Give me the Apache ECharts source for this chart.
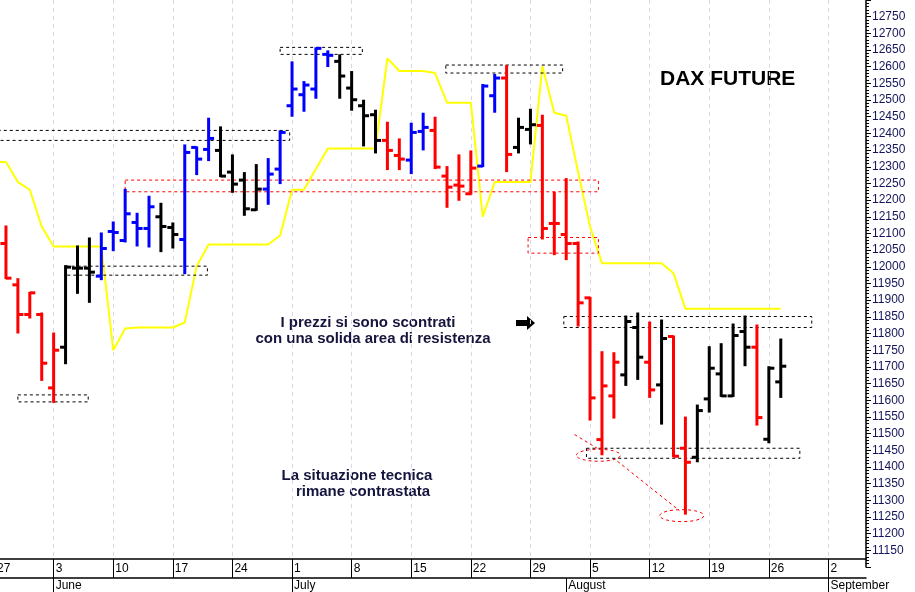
<!DOCTYPE html>
<html>
<head>
<meta charset="utf-8">
<script src="https://cdn.jsdelivr.net/npm/echarts@6/dist/echarts.min.js"></script>
<style>
  html, body { margin: 0; padding: 0; background: #fff; }
  #chart { width: 915px; height: 592px; }
</style>
</head>
<body>
<div id="chart"></div>
<script>
// giorni di borsa (27 maggio - 5 settembre), indice = posizione
var days = [27, 28, 29, 30, 31, 3, 4, 5, 6, 7, 10, 11, 12, 13, 14, 17, 18, 19, 20, 21,
  24, 25, 26, 27, 28, 1, 2, 3, 4, 5, 8, 9, 10, 11, 12, 15, 16, 17, 18, 19,
  22, 23, 24, 25, 26, 29, 30, 31, 1, 2, 5, 6, 7, 8, 9, 12, 13, 14, 15, 16,
  19, 20, 21, 22, 23, 26, 27, 28, 29, 30, 2, 3, 4, 5];
var mondays = [5, 10, 15, 20, 25, 30, 35, 40, 45, 50, 55, 60, 65, 70];
var monthStarts = [5, 25, 48, 70];
var monthNames = { 5: 'June', 25: 'July', 48: 'August', 70: 'September' };

// barre OHLC, indice 1..66
var opens = [null, 12070, 11946, 11857, 11857, 11637, 11759, 11996, 11996, 11972, 12106, 12079, 12133, 12115, 12150,
  12118, 12082, 12358, 12352, 12349, 12284, 12260, 12171, 12233, 12293, 12483, 12516, 12533, 12637, 12616,
  12536, 12483, 12456, 12379, 12334, 12320, 12406, 12409, 12272, 12245, 12219, 12302, 12513, 12566, 12358,
  12412, 12424, 12130, 12097, 12070, 11907, 11482, 11613, 11676, 11818, 11714, 11646, 11791, 11456, 11429,
  11604, 11679, 11613, 11806, 11759, 11483, 11655];
var highs = [null, 12121, 11963, 11922, 11860, 11800, 12002, 12061, 12085, 12100, 12133, 12231, 12159, 12210, 12189,
  12130, 12364, 12358, 12444, 12418, 12334, 12281, 12305, 12323, 12406, 12613, 12554, 12655, 12646, 12634,
  12584, 12498, 12468, 12432, 12382, 12429, 12459, 12447, 12299, 12334, 12346, 12545, 12575, 12602, 12444,
  12471, 12453, 12222, 12263, 12073, 11907, 11744, 11741, 11851, 11860, 11833, 11839, 11791, 11548, 11584,
  11759, 11768, 11827, 11851, 11824, 11699, 11782];
var lows = [null, 11966, 11803, 11848, 11661, 11595, 11711, 11922, 11895, 11963, 12050, 12076, 12064, 12061, 12047,
  12058, 11981, 12278, 12320, 12272, 12225, 12156, 12171, 12189, 12251, 12453, 12468, 12507, 12602, 12507,
  12471, 12364, 12343, 12293, 12293, 12281, 12352, 12296, 12180, 12201, 12219, 12302, 12465, 12287, 12343,
  12370, 12085, 12038, 12023, 11824, 11542, 11438, 11548, 11646, 11664, 11610, 11530, 11432, 11260, 11417,
  11566, 11613, 11613, 11705, 11527, 11474, 11610];
var closes = [null, 11966, 11857, 11922, 11711, 11750, 11999, 11996, 11984, 12055, 12103, 12159, 12115, 12180, 12121,
  12097, 12343, 12323, 12385, 12272, 12248, 12174, 12233, 12278, 12403, 12533, 12545, 12655, 12634, 12572,
  12501, 12453, 12379, 12349, 12323, 12403, 12418, 12299, 12239, 12242, 12296, 12542, 12566, 12337, 12418,
  12426, 12115, 12130, 12070, 11892, 11607, 11643, 11714, 11836, 11729, 11631, 11785, 11432, 11414, 11569,
  11696, 11613, 11794, 11759, 11548, 11696, 11702];
var trend = ['', 'r', 'r', 'r', 'r', 'r', 'k', 'k', 'k', 'b', 'b', 'b', 'b', 'b', 'k',
  'k', 'b', 'b', 'b', 'k', 'k', 'k', 'k', 'b', 'b', 'b', 'b', 'b', 'b', 'k',
  'k', 'k', 'k', 'r', 'r', 'b', 'b', 'r', 'r', 'r', 'r', 'b', 'b', 'r', 'k',
  'k', 'r', 'r', 'r', 'r', 'r', 'r', 'r', 'k', 'k', 'r', 'k', 'r', 'r', 'k',
  'k', 'k', 'k', 'k', 'r', 'k', 'k'];
var trendColors = { r: '#ff0000', k: '#000000', b: '#0000ff' };

// linea gialla
var stopLine = [12314, 12314, 12254, 12231, 12121, 12061, 12061, 12061, 12061, 12061, 11750, 11815, 11818, 11818, 11818,
  11818, 11833, 12002, 12067, 12067, 12067, 12067, 12067, 12067, 12094, 12231, 12231, 12293, 12355, 12355,
  12355, 12355, 12355, 12625, 12587, 12587, 12587, 12581, 12492, 12492, 12492, 12150, 12254, 12254, 12254,
  12254, 12602, 12462, 12453, 12284, 12121, 12011, 12011, 12011, 12011, 12011, 12011, 11981, 11874, 11874,
  11874, 11874, 11874, 11874, 11874, 11874, 11874];

// zone tratteggiate: [x0, x1, y0, y1, colore]
var boxes = [
  [-1.2, 24.8, 12379, 12409, '#000'],
  [24.0, 30.9, 12637, 12658, '#000'],
  [37.9, 47.7, 12581, 12605, '#000'],
  [11.0, 50.7, 12225, 12260, '#ff0000'],
  [6.0, 17.9, 11975, 12002, '#000'],
  [2.0, 7.9, 11595, 11616, '#000'],
  [44.8, 50.7, 12041, 12088, '#ff0000'],
  [47.8, 68.6, 11818, 11851, '#000'],
  [49.7, 67.6, 11426, 11456, '#000']
];
var ellipses = [[50.7, 11435], [57.7, 11254]];
var guides = [[48.7, 11497, 50.6, 11456], [52.3, 11417, 57.5, 11269]];

var bars = [];
for (var i = 0; i < opens.length; i++) {
  if (opens[i] != null) bars.push([i, opens[i], highs[i], lows[i], closes[i]]);
}
var linePts = stopLine.map(function (v, k) { return [k, v]; });

var chart = echarts.init(document.getElementById('chart'));

function px(api, x, y) {
  var p = api.coord([0, y]);
  return [p[0] + x * api.size([1, 0])[0], p[1]];
}

var labelFont = { color: '#000', fontSize: 12, fontFamily: 'Liberation Sans' };
var noteFont = 'bold 15px Liberation Sans';

var option = {
  animation: false,
  backgroundColor: '#fff',
  grid: { left: 0, right: 49, top: -4, bottom: 23 },
  xAxis: [{
    type: 'value',
    min: 0.5,
    max: 73.15,
    offset: -8,
    axisLine: { lineStyle: { color: '#000', width: 1.5 } },
    axisTick: { customValues: mondays, length: 19, lineStyle: { color: '#000' } },
    axisLabel: Object.assign({ customValues: mondays, formatter: function (v) { return String(days[Math.round(v)]); },
      align: 'left', margin: 4, padding: [0, 0, 0, 2] }, labelFont),
    splitLine: { show: true, lineStyle: { color: '#d6d6ee', type: [4, 4] } }
  }, {
    type: 'value',
    min: 0.5,
    max: 73.15,
    position: 'bottom',
    offset: 11,
    axisLine: { lineStyle: { color: '#000', width: 1.5 } },
    axisTick: { customValues: monthStarts, length: 14, lineStyle: { color: '#000' } },
    axisLabel: Object.assign({ customValues: monthStarts, formatter: function (v) { return monthNames[Math.round(v)] || ''; },
      align: 'left', margin: 2, padding: [0, 0, 0, 2] }, labelFont),
    splitLine: { show: false }
  }],
  yAxis: {
    type: 'value',
    position: 'right',
    min: 11100,
    max: 12800,
    interval: 50,
    axisLine: { show: true, lineStyle: { color: '#000', width: 1.5 } },
    axisTick: { show: true, length: 5, lineStyle: { color: '#000' } },
    minorTick: { show: true, splitNumber: 5, length: 3, lineStyle: { color: '#000' } },
    axisLabel: { showMinLabel: false, showMaxLabel: false, formatter: function (v) { return String(v); },
      color: '#14145a', fontSize: 12, margin: 6, fontFamily: 'Liberation Sans' },
    splitLine: { show: false }
  },
  series: [{
    type: 'line',
    data: linePts,
    symbol: 'none',
    lineStyle: { color: '#ffff00', width: 2 },
    z: 1
  }, {
    type: 'custom',
    data: boxes.map(function (b, k) { return [k, 0]; }),
    z: 2,
    renderItem: function (params, api) {
      var b = boxes[params.dataIndex];
      var p0 = px(api, b[0], b[3]), p1 = px(api, b[1], b[2]);
      return {
        type: 'rect',
        shape: { x: p0[0], y: p0[1], width: p1[0] - p0[0], height: p1[1] - p0[1] },
        style: { fill: 'none', stroke: b[4], lineWidth: 1, lineDash: [3, 3] }
      };
    }
  }, {
    type: 'custom',
    data: [[0, 0]],
    z: 2,
    renderItem: function (params, api) {
      var children = [];
      ellipses.forEach(function (e) {
        var c = px(api, e[0], e[1]);
        children.push({ type: 'ellipse', shape: { cx: c[0], cy: c[1], rx: 22, ry: 6 },
          style: { fill: 'none', stroke: '#ff0000', lineWidth: 1, lineDash: [3, 3] } });
      });
      guides.forEach(function (g) {
        var a = px(api, g[0], g[1]), b = px(api, g[2], g[3]);
        children.push({ type: 'line', shape: { x1: a[0], y1: a[1], x2: b[0], y2: b[1] },
          style: { stroke: '#ff0000', lineWidth: 1, lineDash: [3, 3] } });
      });
      return { type: 'group', children: children };
    }
  }, {
    type: 'custom',
    data: bars,
    z: 3,
    renderItem: function (params, api) {
      var i = api.value(0);
      var o = api.coord([i, api.value(1)]);
      var h = api.coord([i, api.value(2)]);
      var l = api.coord([i, api.value(3)]);
      var c = api.coord([i, api.value(4)]);
      var col = trendColors[trend[i]];
      var t = 5.5;
      var st = { stroke: col, lineWidth: 3 };
      return {
        type: 'group',
        children: [
          { type: 'line', shape: { x1: h[0], y1: h[1] - 1, x2: l[0], y2: l[1] + 1 }, style: st },
          { type: 'line', shape: { x1: o[0] - t, y1: o[1], x2: o[0], y2: o[1] }, style: st },
          { type: 'line', shape: { x1: c[0], y1: c[1], x2: c[0] + t, y2: c[1] }, style: st }
        ]
      };
    }
  }],
  graphic: [
    { type: 'text', x: -3, y: 563, style: { text: '27', font: '12px Liberation Sans', fill: '#000' } },
    { type: 'text', x: 660, y: 69, style: { text: 'DAX FUTURE', font: 'bold 21px Liberation Sans', fill: '#000' } },
    { type: 'text', x: 368, y: 315, style: { text: 'I prezzi si sono scontrati', font: noteFont, fill: '#14143c', align: 'center' } },
    { type: 'text', x: 373, y: 331, style: { text: 'con una solida area di resistenza', font: noteFont, fill: '#14143c', align: 'center' } },
    { type: 'text', x: 357, y: 468, style: { text: 'La situazione tecnica', font: noteFont, fill: '#14143c', align: 'center' } },
    { type: 'text', x: 363, y: 484, style: { text: 'rimane contrastata', font: noteFont, fill: '#14143c', align: 'center' } },
    { type: 'polygon', shape: { points: [[516, 320], [527, 320], [527, 316], [535, 323], [527, 330], [527, 326], [516, 326]] }, style: { fill: '#000' } }
  ]
};
chart.setOption(option);
window.addEventListener('resize', function () { chart.resize(); });
</script>
</body>
</html>
